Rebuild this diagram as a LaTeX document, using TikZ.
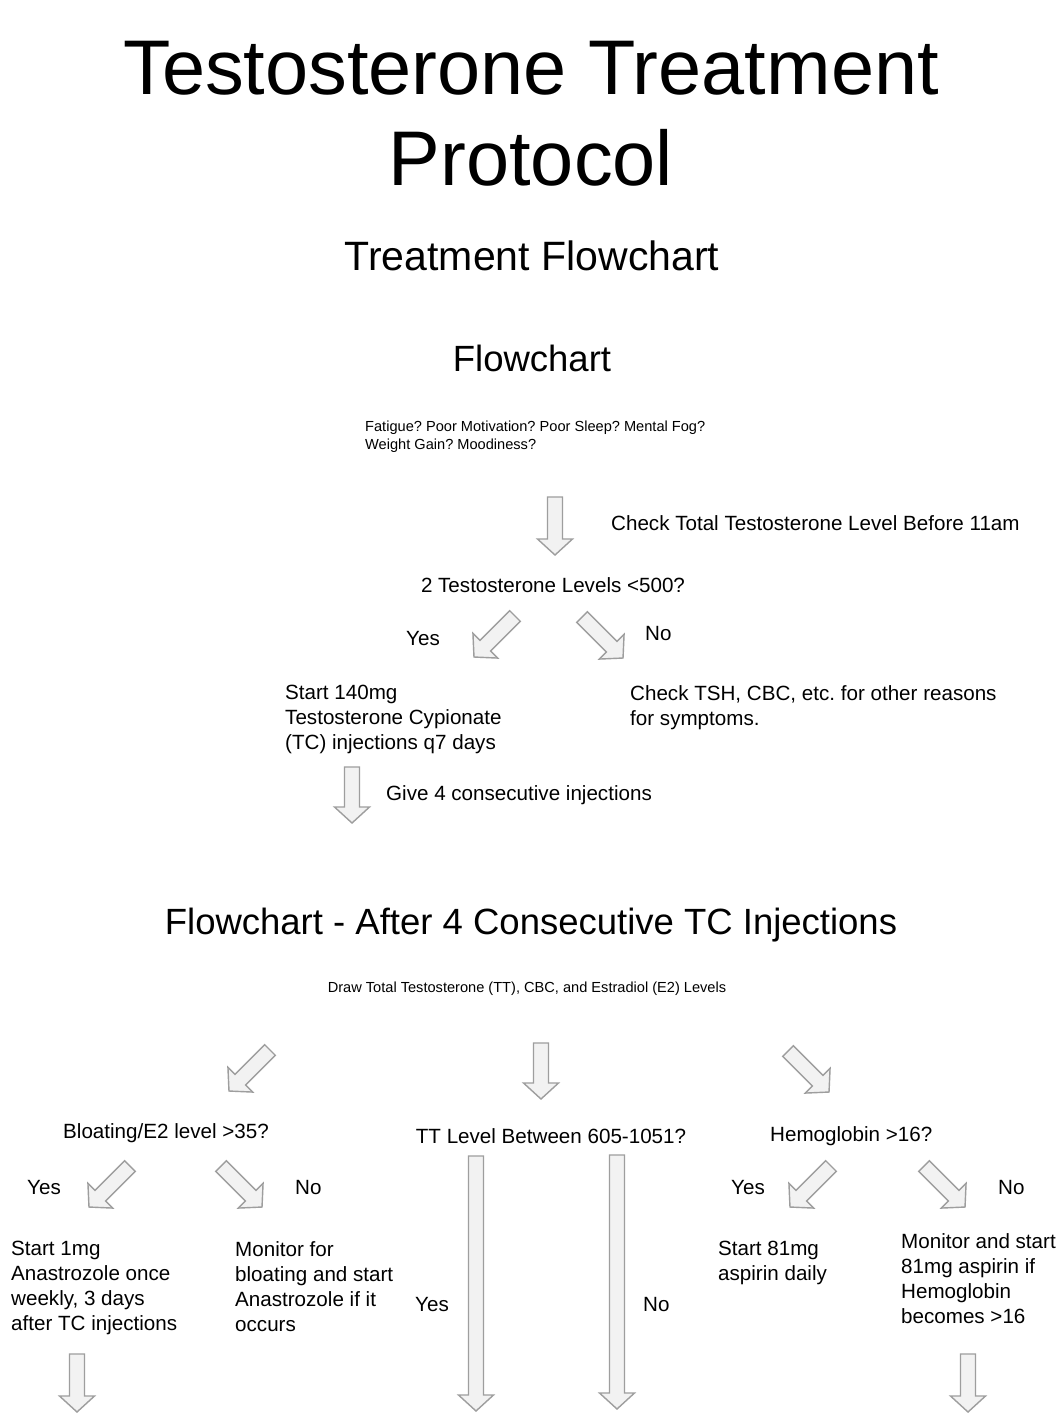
\documentclass[tikz,border=0pt]{standalone}
\usepackage{fontspec}
\setmainfont{Liberation Sans}
\frenchspacing
\definecolor{arrowgray}{HTML}{9E9E9E}
\definecolor{arrowfill}{HTML}{F2F2F2}
\tikzset{
  body/.style={inner sep=0pt, font=\fontsize{20.6}{25}\selectfont},
  small/.style={inner sep=0pt, font=\fontsize{14.6}{18}\selectfont},
  blockarrow/.pic={
    \draw[draw=arrowgray, fill=arrowfill, line width=1.4pt, line join=miter]
      (0,-7.5) -- ({#1-16},-7.5) -- ({#1-16},-17.5) -- (#1,0)
      -- ({#1-16},17.5) -- ({#1-16},7.5) -- (0,7.5) -- cycle;
  }
}
\begin{document}
\begin{tikzpicture}[x=1pt, y=-1pt]
    \useasboundingbox[fill=white] (0,0) rectangle (1063,1426);
    \node[anchor=north, inner sep=0pt, align=center, font=\fontsize{77.5}{91}\selectfont] (title) at (531,41) {Testosterone Treatment\\Protocol};
    \node[anchor=base, inner sep=0pt, font=\fontsize{41}{49}\selectfont] (subtitle) at (532,270) {Treatment Flowchart};
    \node[anchor=base, inner sep=0pt, font=\fontsize{36.5}{44}\selectfont] (head1) at (532,371) {Flowchart};
    \node[small, anchor=north west, align=left] (symptoms) at (365,421) {Fatigue? Poor Motivation? Poor Sleep? Mental Fog?\\Weight Gain? Moodiness?};
    \pic (a1) [rotate=-90] at (555,497) {blockarrow=58};
    \node[body, anchor=base west] (check) at (611,530) {Check Total Testosterone Level Before 11am};
    \node[body, anchor=base] (levels) at (553,592) {2 Testosterone Levels <500?};
    \pic (a2) [rotate=-135] at (515,616) {blockarrow=58};
    \pic (a3) [rotate=-45] at (582,617) {blockarrow=58};
    \node[body, anchor=base west] (yes1) at (406,645) {Yes};
    \node[body, anchor=base west] (no1) at (645,640) {No};
    \node[body, anchor=north west, align=left] (start) at (285,685) {Start 140mg\\Testosterone Cypionate\\(TC) injections q7 days};
    \node[body, anchor=north west, align=left] (other) at (630,685) {Check TSH, CBC, etc. for other reasons\\for symptoms.};
    \pic (a4) [rotate=-90] at (352,767) {blockarrow=56};
    \node[body, anchor=base west] (give) at (386,800) {Give 4 consecutive injections};
    \node[anchor=base, inner sep=0pt, font=\fontsize{36.5}{44}\selectfont] (head2) at (531,934) {Flowchart - After 4 Consecutive TC Injections};
    \node[small, anchor=base] (draw) at (527,992) {Draw Total Testosterone (TT), CBC, and Estradiol (E2) Levels};
    \pic (a5) [rotate=-135] at (270,1050) {blockarrow=58};
    \pic (a6) [rotate=-90] at (541,1043) {blockarrow=56};
    \pic (a7) [rotate=-45] at (788,1051) {blockarrow=58};
    \node[body, anchor=base west] (bloat) at (63,1138) {Bloating/E2 level >35?};
    \node[body, anchor=base] (tt) at (551,1143) {TT Level Between 605-1051?};
    \node[body, anchor=base west] (hemo) at (770,1141) {Hemoglobin >16?};
    \pic (a8) [rotate=-135] at (130,1166) {blockarrow=58};
    \pic (a9) [rotate=-45] at (221,1166) {blockarrow=58};
    \pic (a10) [rotate=-90] at (476,1156) {blockarrow=255};
    \pic (a11) [rotate=-90] at (617,1155) {blockarrow=254};
    \pic (a12) [rotate=-135] at (831,1166) {blockarrow=58};
    \pic (a13) [rotate=-45] at (924,1166) {blockarrow=58};
    \node[body, anchor=base west] (yes2) at (27,1194) {Yes};
    \node[body, anchor=base west] (no2) at (295,1194) {No};
    \node[body, anchor=base west] (yes3) at (415,1311) {Yes};
    \node[body, anchor=base west] (no3) at (643,1311) {No};
    \node[body, anchor=base west] (yes4) at (731,1194) {Yes};
    \node[body, anchor=base west] (no4) at (998,1194) {No};
    \node[body, anchor=north west, align=left] (anastro) at (11,1241) {Start 1mg\\Anastrozole once\\weekly, 3 days\\after TC injections};
    \node[body, anchor=north west, align=left] (monitor) at (235,1241) {Monitor for\\bloating and start\\Anastrozole if it\\occurs};
    \node[body, anchor=north west, align=left] (aspirin) at (718,1241) {Start 81mg\\aspirin daily};
    \node[body, anchor=north west, align=left] (monitor2) at (901,1233) {Monitor and start\\81mg aspirin if\\Hemoglobin\\becomes >16};
    \pic (a14) [rotate=-90] at (77,1354) {blockarrow=58};
    \pic (a15) [rotate=-90] at (968,1354) {blockarrow=58};
\end{tikzpicture}
\end{document}
